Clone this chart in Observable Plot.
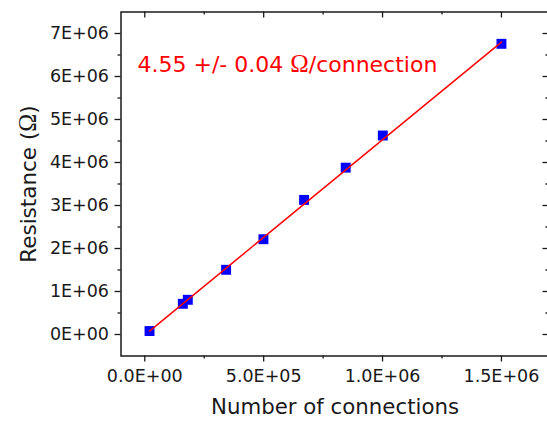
<!DOCTYPE html>
<html><head><meta charset="utf-8">
<script src="https://cdn.jsdelivr.net/npm/d3@7"></script>
<script src="https://cdn.jsdelivr.net/npm/@observablehq/plot@0.6"></script>
<style>
html,body{margin:0;padding:0;background:#fff;}
#chart{width:547px;height:423px;overflow:hidden;}
</style>
</head><body><div id="chart"></div>
<script>
// measured data
const connections = [2.0e4, 1.60e5, 1.81e5, 3.42e5, 4.99e5, 6.70e5, 8.45e5, 1.001e6, 1.50e6];
const resistance  = [8.0e4, 7.14e5, 8.07e5, 1.505e6, 2.216e6, 3.13e6, 3.88e6, 4.628e6, 6.76e6];
// fitted line endpoints
const fitConnections = [2.0e4, 1.50e6];
const fitResistance  = [8.0e4, 6.80e6];
// ticks
const xTickValues = [0, 5e5, 1e6, 1.5e6];
const xTickLabels = ["0.0E+00", "5.0E+05", "1.0E+06", "1.5E+06"];
const xMinorTicks = [2.5e5, 7.5e5, 1.25e6];
const yTickValues = [0, 1e6, 2e6, 3e6, 4e6, 5e6, 6e6, 7e6];
const yTickLabels = ["0E+00", "1E+06", "2E+06", "3E+06", "4E+06", "5E+06", "6E+06", "7E+06"];
const yMinorTicks = [5e5, 1.5e6, 2.5e6, 3.5e6, 4.5e6, 5.5e6, 6.5e6];
const xDomain = [-1e5, 1.7e6];
const yDomain = [-5e5, 7.5e6];
const xTitle = "Number of connections";
const yTitle = "Resistance (Ω)";
const annotation = "4.55 +/- 0.04 Ω/connection";

const points = connections.map((n, i) => ({n, r: resistance[i]}));
const fit = fitConnections.map((n, i) => ({n, r: fitResistance[i]}));
const xLabelMap = new Map(xTickValues.map((v, i) => [v, xTickLabels[i]]));
const yLabelMap = new Map(yTickValues.map((v, i) => [v, yTickLabels[i]]));

const axisColor = "#1a1a1a";
const W = 547, H = 423;
const mL = 120.5, mR = -1.5, mT = 11.5, mB = 67.5;
const fw = W - mR - mL, fh = H - mB - mT;

const chart = Plot.plot({
  width: W, height: H,
  marginLeft: mL, marginRight: mR, marginTop: mT, marginBottom: mB,
  style: {background: "white", fontFamily: "DejaVu Sans", fontSize: "17.5px", color: axisColor},
  x: {domain: xDomain, range: [mL, W - mR], label: null},
  y: {domain: yDomain, range: [H - mB, mT], label: null},
  marks: [
    Plot.frame({stroke: axisColor, strokeWidth: 1.5}),
    Plot.axisX(xTickValues, {anchor: "bottom", tickSize: 6, tickPadding: 8, strokeWidth: 1.3,
      tickFormat: d => xLabelMap.get(d), fontSize: 17.5, label: null}),
    Plot.axisY(yTickValues, {anchor: "left", tickSize: 6, tickPadding: 6, strokeWidth: 1.3,
      tickFormat: d => yLabelMap.get(d), fontSize: 17.5, label: null}),
    // minor ticks (outward) on bottom and left
    Plot.tickX(xMinorTicks, {x: d => d, insetTop: fh, insetBottom: -3, stroke: axisColor, strokeWidth: 1.3}),
    Plot.tickY(yMinorTicks, {y: d => d, insetRight: fw, insetLeft: -3, stroke: axisColor, strokeWidth: 1.3}),
    // mirrored inward ticks on top and right
    Plot.tickX(xTickValues, {x: d => d, insetBottom: fh - 6, stroke: axisColor, strokeWidth: 1.3}),
    Plot.tickX(xMinorTicks, {x: d => d, insetBottom: fh - 3, stroke: axisColor, strokeWidth: 1.3}),
    Plot.tickY(yTickValues, {y: d => d, insetLeft: fw - 6, stroke: axisColor, strokeWidth: 1.3}),
    Plot.tickY(yMinorTicks, {y: d => d, insetLeft: fw - 3, stroke: axisColor, strokeWidth: 1.3}),
    // data
    Plot.dot(points, {x: "n", y: "r", symbol: "square", r: 5.6, fill: "#0000ff", stroke: null}),
    Plot.line(fit, {x: "n", y: "r", stroke: "#ff0000", strokeWidth: 1.5}),
    // annotation
    Plot.text([annotation], {text: d => d, frameAnchor: "top-left", dx: 16.5, dy: 52.5,
      textAnchor: "start", lineAnchor: "middle", fill: "#ff0000", fontSize: 22}),
    // axis titles
    Plot.text([xTitle], {text: d => d, frameAnchor: "bottom", dy: 51, textAnchor: "middle", lineAnchor: "middle",
      fill: axisColor, fontSize: 21.3}),
    Plot.text([yTitle], {text: d => d, frameAnchor: "left", dx: -92, rotate: -90, textAnchor: "middle",
      lineAnchor: "middle", fill: axisColor, fontSize: 21.5})
  ]
});

// render the Ω glyph in a serif face, as in the original figure
const ns = "http://www.w3.org/2000/svg";
chart.querySelectorAll("text").forEach(t => {
  const s = t.textContent;
  if (!s.includes("Ω") || t.querySelector("tspan")) return;
  const parts = s.split("Ω");
  t.textContent = "";
  parts.forEach((p, i) => {
    if (i > 0) {
      const ts = document.createElementNS(ns, "tspan");
      ts.setAttribute("style", "font-family:'Liberation Serif';font-size:1.13em");
      ts.textContent = "Ω";
      t.appendChild(ts);
    }
    if (p) t.appendChild(document.createTextNode(p));
  });
});

document.getElementById("chart").appendChild(chart);
</script>
</body></html>
